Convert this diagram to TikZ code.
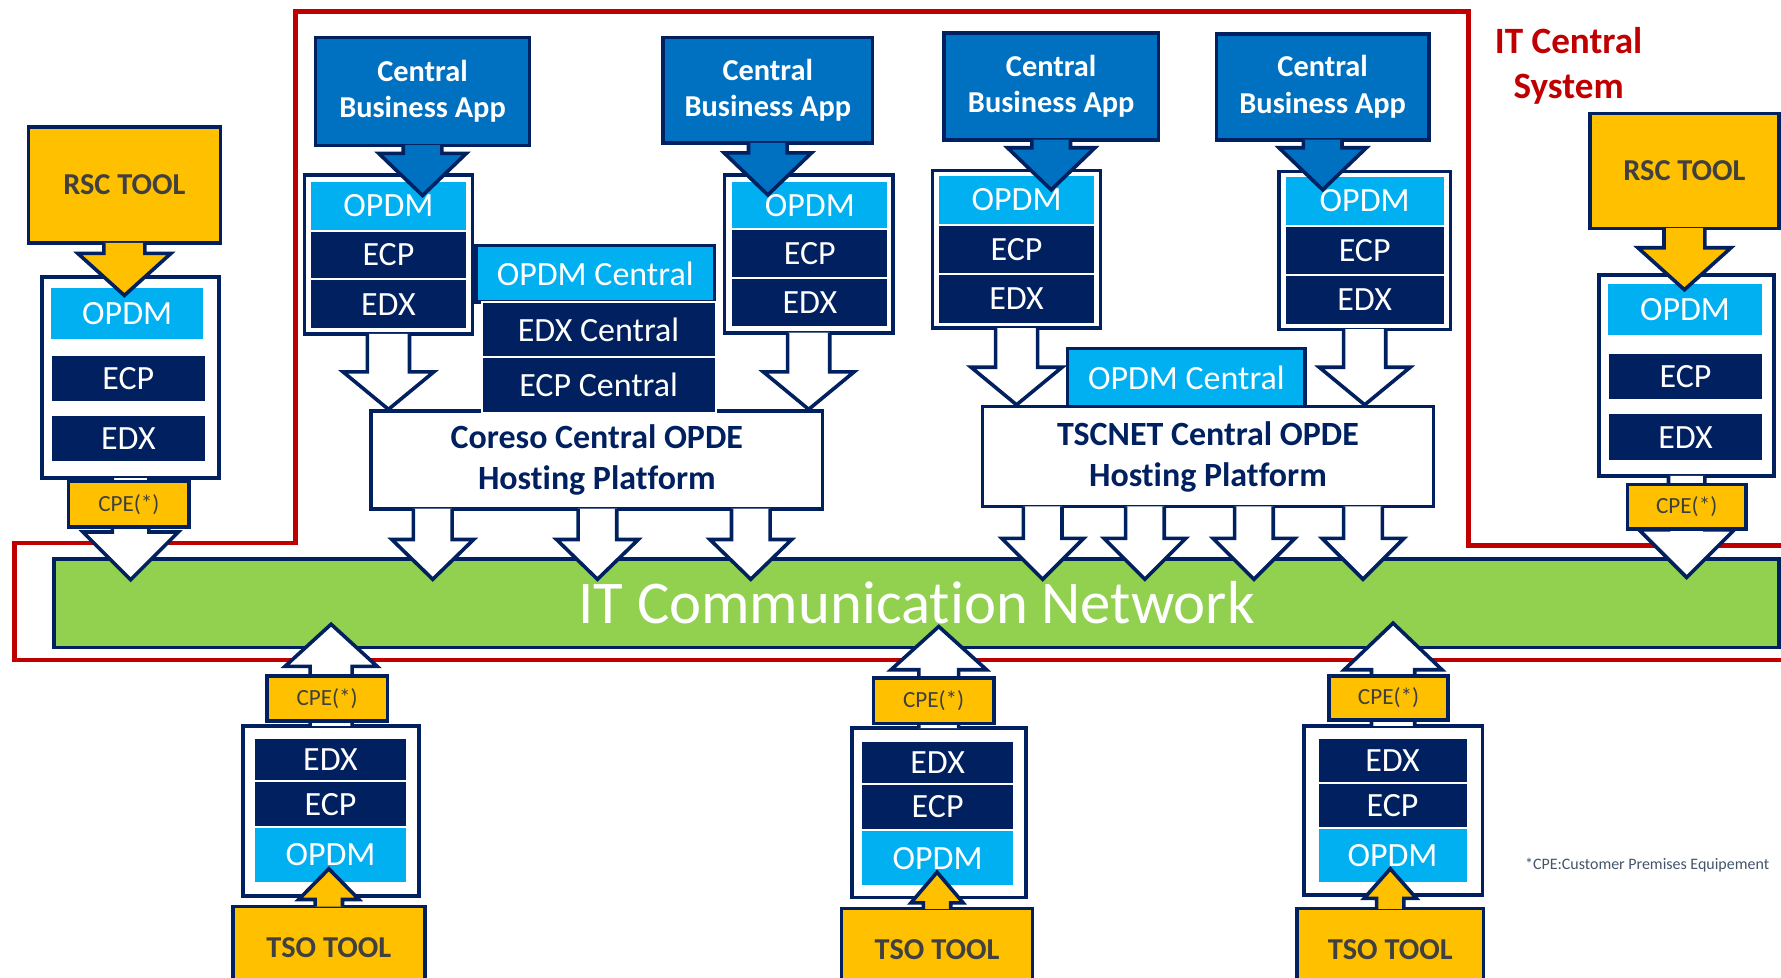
\documentclass[tikz,border=0pt]{standalone}
\usepackage{fontspec}
\setmainfont{Carlito}[Ligatures=NoCommon]
\usetikzlibrary{calc}

\definecolor{navy}{RGB}{0,32,96}
\definecolor{opdmcyan}{RGB}{0,176,240}
\definecolor{appblue}{RGB}{0,112,192}
\definecolor{toolyellow}{RGB}{255,192,0}
\definecolor{netgreen}{RGB}{146,208,80}
\definecolor{framered}{RGB}{192,0,0}
\definecolor{tooltext}{RGB}{64,64,64}
\definecolor{notetext}{RGB}{68,84,106}

\tikzset{
    shaft half/.store in=\arrshaft, shaft half=0.17cm,
    head half/.store in=\arrhead, head half=0.38cm,
    head len/.store in=\arrlen, head len=0.36cm,
}

\begin{document}
\begin{tikzpicture}[x=0.01cm, y=-0.01cm,
    % Styles
    box/.style={draw=navy, line width=0.9pt, inner sep=0pt, align=center},
    app/.style={box, fill=appblue, text=white, font=\fontsize{7.6}{9.1}\selectfont\bfseries},
    tool/.style={box, fill=toolyellow, text=tooltext, font=\fontsize{7.6}{9}\selectfont\bfseries},
    cpe/.style={box, fill=toolyellow, text=tooltext, font=\fontsize{5.8}{7}\selectfont, minimum width=1.06cm, minimum height=0.40cm},
    holder/.style={box, fill=white},
    platform/.style={box, fill=white, text=navy, minimum width=3.97cm, font=\fontsize{8.5}{10.2}\selectfont\bfseries},
    central/.style={box, fill=opdmcyan, text=white, font=\fontsize{8.5}{10}\selectfont, minimum width=2.10cm, minimum height=0.50cm},
    opdm/.style={draw=white, line width=0.5pt, fill=opdmcyan, text=white, inner sep=0pt, font=\fontsize{8.5}{10}\selectfont},
    layer/.style={opdm, fill=navy},
    blockbase/.style={draw=navy, line width=0.9pt, line join=miter},
    blockdown/.style={blockbase, to path={let \p1=(\tikztostart), \p2=(\tikztotarget) in
        (\x2+\arrshaft,\y1+0.5pt) -- (\x2+\arrshaft,\y2+\arrlen) -- (\x2+\arrhead,\y2+\arrlen) -- (\x2,\y2)
        -- (\x2-\arrhead,\y2+\arrlen) -- (\x2-\arrshaft,\y2+\arrlen) -- (\x2-\arrshaft,\y1+0.5pt)}},
    blockup/.style={blockbase, to path={let \p1=(\tikztostart), \p2=(\tikztotarget) in
        (\x2+\arrshaft,\y1-0.5pt) -- (\x2+\arrshaft,\y2-\arrlen) -- (\x2+\arrhead,\y2-\arrlen) -- (\x2,\y2)
        -- (\x2-\arrhead,\y2-\arrlen) -- (\x2-\arrshaft,\y2-\arrlen) -- (\x2-\arrshaft,\y1-0.5pt)}},
]

% Canvas
\useasboundingbox (0,0) rectangle (1568,861);
\clip (0,0) rectangle (1568,861);

% IT Central System frame
\draw[framered, line width=1.2pt] (1575,480) -- (1293,480) -- (1293,10) -- (260,10) -- (260,478) -- (13,478) -- (13,581) -- (1575,581);
\node[text=framered, font=\fontsize{9.3}{11.4}\selectfont\bfseries, align=center] (itcs) at (1381,58) {IT Central\\System};

% Network
\node[box, fill=netgreen, minimum width=15.18cm, minimum height=0.78cm, text=white, font=\fontsize{15.2}{18}\selectfont] (net) at (807,531) {IT Communication Network};

% Central business apps and their stacks
\node[app, minimum width=1.88cm, minimum height=0.95cm] (app1) at (372,80.5) {Central\\Business App};
\node[holder, minimum width=1.48cm, minimum height=1.40cm] (cst1) at (342,224) {};
\node[opdm, minimum width=1.38cm, minimum height=0.44cm] (copdm1) at (342,181) {OPDM};
\node[layer, minimum width=1.38cm, minimum height=0.43cm] (cecp1) at (342,224.5) {ECP};
\node[layer, minimum width=1.38cm, minimum height=0.44cm] (cedx1) at (342,268) {EDX};
\draw[blockdown, fill=appblue, shaft half=0.17cm, head half=0.385cm, head len=0.37cm] (app1.south) to ($(copdm1.north -| app1.south)+(0,14)$);

\node[app, minimum width=1.84cm, minimum height=0.93cm] (app2) at (676,79.5) {Central\\Business App};
\node[holder, minimum width=1.48cm, minimum height=1.39cm] (cst2) at (712,223.5) {};
\node[opdm, minimum width=1.38cm, minimum height=0.43cm] (copdm2) at (713,181) {OPDM};
\node[layer, minimum width=1.38cm, minimum height=0.43cm] (cecp2) at (713,223.5) {ECP};
\node[layer, minimum width=1.38cm, minimum height=0.43cm] (cedx2) at (713,266.5) {EDX};
\draw[blockdown, fill=appblue, shaft half=0.17cm, head half=0.385cm, head len=0.37cm] (app2.south) to ($(copdm2.north -| app2.south)+(0,13)$);

\node[app, minimum width=1.89cm, minimum height=0.94cm] (app3) at (925.5,76) {Central\\Business App};
\node[holder, minimum width=1.48cm, minimum height=1.39cm] (cst3) at (895,219.5) {};
\node[opdm, minimum width=1.38cm, minimum height=0.44cm] (copdm3) at (895,176) {OPDM};
\node[layer, minimum width=1.38cm, minimum height=0.43cm] (cecp3) at (895,219.5) {ECP};
\node[layer, minimum width=1.38cm, minimum height=0.44cm] (cedx3) at (895,263) {EDX};
\draw[blockdown, fill=appblue, shaft half=0.17cm, head half=0.385cm, head len=0.37cm] (app3.south) to ($(copdm3.north -| app3.south)+(0,14)$);

\node[app, minimum width=1.87cm, minimum height=0.93cm] (app4) at (1164.5,76.5) {Central\\Business App};
\node[holder, minimum width=1.51cm, minimum height=1.39cm] (cst4) at (1201.5,220.5) {};
\node[opdm, minimum width=1.41cm, minimum height=0.44cm] (copdm4) at (1201.5,177) {OPDM};
\node[layer, minimum width=1.41cm, minimum height=0.43cm] (cecp4) at (1201.5,220.5) {ECP};
\node[layer, minimum width=1.41cm, minimum height=0.44cm] (cedx4) at (1201.5,264) {EDX};
\draw[blockdown, fill=appblue, shaft half=0.17cm, head half=0.385cm, head len=0.37cm] (app4.south) to ($(copdm4.north -| app4.south)+(0,13)$);

% Coreso platform
\node[platform, minimum height=0.86cm] (coreso) at (525.5,405) {Coreso Central OPDE\\Hosting Platform};
\node[central] (ocent1) at (524,241) {OPDM Central};
\node[layer, minimum width=2.06cm, minimum height=0.48cm] (xcent1) at (527,290) {EDX Central};
\node[layer, minimum width=2.06cm, minimum height=0.50cm] (ccent1) at (527,339) {ECP Central};

% TSCNET platform
\node[platform, minimum height=0.88cm] (tscnet) at (1063.5,402) {TSCNET Central OPDE\\Hosting Platform};
\node[central, minimum width=2.09cm, minimum height=0.51cm] (ocent2) at (1044.5,332.5) {OPDM Central};

% Stacks down to the platforms
\draw[blockdown, fill=white, shaft half=0.185cm, head half=0.40cm, head len=0.33cm] (cst1.south) to (cst1.south |- coreso.north);
\draw[blockdown, fill=white, shaft half=0.185cm, head half=0.40cm, head len=0.33cm] (cst2.south) to (cst2.south |- coreso.north);
\draw[blockdown, fill=white, shaft half=0.185cm, head half=0.40cm, head len=0.33cm] (cst3.south) to (cst3.south |- tscnet.north);
\draw[blockdown, fill=white, shaft half=0.185cm, head half=0.40cm, head len=0.33cm] (cst4.south) to (cst4.south |- tscnet.north);

% Platforms down to the network
\coordinate (nt1) at (381,510);
\coordinate (nt2) at (526,510);
\coordinate (nt3) at (661,510);
\coordinate (nt4) at (918,510);
\coordinate (nt5) at (1008,510);
\coordinate (nt6) at (1104,510);
\coordinate (nt7) at (1200,510);
\draw[blockdown, fill=white, shaft half=0.17cm, head half=0.36cm, head len=0.35cm] (coreso.south -| nt1) to (nt1);
\draw[blockdown, fill=white, shaft half=0.17cm, head half=0.36cm, head len=0.35cm] (coreso.south -| nt2) to (nt2);
\draw[blockdown, fill=white, shaft half=0.17cm, head half=0.36cm, head len=0.35cm] (coreso.south -| nt3) to (nt3);
\draw[blockdown, fill=white, shaft half=0.17cm, head half=0.36cm, head len=0.36cm] (tscnet.south -| nt4) to (nt4);
\draw[blockdown, fill=white, shaft half=0.17cm, head half=0.36cm, head len=0.36cm] (tscnet.south -| nt5) to (nt5);
\draw[blockdown, fill=white, shaft half=0.17cm, head half=0.36cm, head len=0.36cm] (tscnet.south -| nt6) to (nt6);
\draw[blockdown, fill=white, shaft half=0.17cm, head half=0.36cm, head len=0.36cm] (tscnet.south -| nt7) to (nt7);

% Left RSC tool
\node[holder, minimum width=1.56cm, minimum height=1.77cm] (rst1) at (115,332.5) {};
\node[opdm, minimum width=1.36cm, minimum height=0.46cm] (ropdm1) at (112,276) {OPDM};
\node[layer, minimum width=1.36cm, minimum height=0.41cm] (recp1) at (113,333.5) {ECP};
\node[layer, minimum width=1.36cm, minimum height=0.42cm] (redx1) at (113,386) {EDX};
\draw[blockdown, fill=white, shaft half=0.16cm, head half=0.42cm, head len=0.42cm] (rst1.south) to ($(rst1.south |- net.north)+(0,20)$);
\node[cpe] (cpe1) at (113.5,444) {CPE(*)};
\node[tool, minimum width=1.69cm, minimum height=1.02cm] (rsc1) at (109.5,163) {RSC TOOL};
\draw[blockdown, fill=toolyellow, shaft half=0.18cm, head half=0.41cm, head len=0.37cm] (rsc1.south) to ($(ropdm1.north -| rsc1.south)+(0,8)$);

% Right RSC tool
\node[holder, minimum width=1.54cm, minimum height=1.77cm] (rst2) at (1485,330.5) {};
\node[opdm, minimum width=1.37cm, minimum height=0.47cm] (ropdm2) at (1483.5,272.5) {OPDM};
\node[layer, minimum width=1.37cm, minimum height=0.42cm] (recp2) at (1484,331.5) {ECP};
\node[layer, minimum width=1.37cm, minimum height=0.42cm] (redx2) at (1484,385) {EDX};
\draw[blockdown, fill=white, shaft half=0.16cm, head half=0.42cm, head len=0.42cm] (rst2.south) to ($(rst2.south |- net.north)+(0,18)$);
\node[cpe, minimum width=1.04cm, minimum height=0.39cm] (cpe2) at (1485,446) {CPE(*)};
\node[tool, minimum width=1.66cm, minimum height=1.01cm] (rsc2) at (1483,150.5) {RSC TOOL};
\draw[blockdown, fill=toolyellow, shaft half=0.18cm, head half=0.41cm, head len=0.37cm] (rsc2.south) to ($(ropdm2.north -| rsc2.south)+(0,7)$);

% TSO tools
\node[holder, minimum width=1.55cm, minimum height=1.50cm] (tst1) at (291.5,714) {};
\node[layer, minimum width=1.34cm, minimum height=0.38cm] (tedx1) at (291,669) {EDX};
\node[layer, minimum width=1.34cm, minimum height=0.40cm] (tecp1) at (291,708) {ECP};
\node[opdm, minimum width=1.34cm, minimum height=0.49cm] (topdm1) at (291,752.5) {OPDM};
\draw[blockup, fill=white, shaft half=0.185cm, head half=0.405cm, head len=0.37cm] (tst1.north) to ($(tst1.north |- net.south)+(0,-22)$);
\node[cpe] (cpe3) at (288,615) {CPE(*)};
\node[tool, minimum width=1.69cm, minimum height=0.72cm] (tso1) at (289.5,834) {TSO TOOL};
\draw[blockup, fill=toolyellow, shaft half=0.12cm, head half=0.265cm, head len=0.27cm] (tso1.north) to ($(topdm1.south -| tso1.north)+(0,-13)$);

\node[holder, minimum width=1.53cm, minimum height=1.49cm] (tst2) at (826.5,715.5) {};
\node[layer, minimum width=1.35cm, minimum height=0.38cm] (tedx2) at (825.5,671) {EDX};
\node[layer, minimum width=1.35cm, minimum height=0.41cm] (tecp2) at (825.5,710.5) {ECP};
\node[opdm, minimum width=1.35cm, minimum height=0.49cm] (topdm2) at (825.5,755.5) {OPDM};
\draw[blockup, fill=white, shaft half=0.175cm, head half=0.42cm, head len=0.38cm] (tst2.north) to ($(tst2.north |- net.south)+(0,-20)$);
\node[cpe] (cpe4) at (822,617) {CPE(*)};
\node[tool, minimum width=1.68cm, minimum height=0.72cm] (tso2) at (825,836) {TSO TOOL};
\draw[blockup, fill=toolyellow, shaft half=0.12cm, head half=0.23cm, head len=0.27cm] (tso2.north) to ($(topdm2.south -| tso2.north)+(0,-13)$);

\node[holder, minimum width=1.57cm, minimum height=1.49cm] (tst3) at (1226.5,713.5) {};
\node[layer, minimum width=1.32cm, minimum height=0.39cm] (tedx3) at (1226,669.5) {EDX};
\node[layer, minimum width=1.32cm, minimum height=0.40cm] (tecp3) at (1226,709) {ECP};
\node[opdm, minimum width=1.32cm, minimum height=0.48cm] (topdm3) at (1226,753) {OPDM};
\draw[blockup, fill=white, shaft half=0.19cm, head half=0.43cm, head len=0.41cm] (tst3.north) to ($(tst3.north |- net.south)+(0,-23)$);
\node[cpe, minimum width=1.05cm, minimum height=0.39cm] (cpe5) at (1222.5,614.5) {CPE(*)};
\node[tool, minimum width=1.64cm, minimum height=0.72cm] (tso3) at (1224,836) {TSO TOOL};
\draw[blockup, fill=toolyellow, shaft half=0.12cm, head half=0.23cm, head len=0.26cm] (tso3.north) to ($(topdm3.south -| tso3.north)+(0,-13)$);

% Footnote
\node[anchor=west, text=notetext, font=\fontsize{4.0}{5}\selectfont, inner sep=0pt] (note) at (1342,762) {*CPE:Customer Premises Equipement};

\end{tikzpicture}
\end{document}
